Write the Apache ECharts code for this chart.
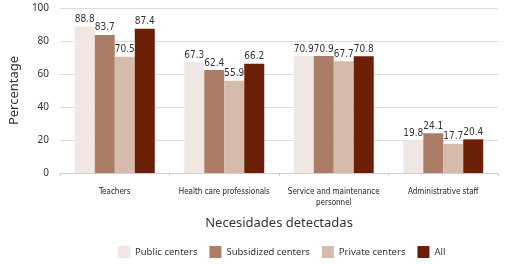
<!DOCTYPE html>
<html><head><meta charset="utf-8">
<script src="https://cdn.jsdelivr.net/npm/echarts@6/dist/echarts.min.js"></script>
<style>html,body{margin:0;padding:0;background:#fff}#c{width:510px;height:264px}</style>
</head><body><div id="c"></div>
<script>
const categories = ['Teachers', 'Health care professionals', 'Service and maintenance\npersonnel', 'Administrative staff'];
const seriesNames = ['Public centers', 'Subsidized centers', 'Private centers', 'All'];
const publicCenters = [88.8, 67.3, 70.9, 19.8];
const subsidizedCenters = [83.7, 62.4, 70.9, 24.1];
const privateCenters = [70.5, 55.9, 67.7, 17.7];
const allCenters = [87.4, 66.2, 70.8, 20.4];
const yTicks = [0, 20, 40, 60, 80, 100];

const colors = ['#f0e7e2', '#ab7d67', '#d6bbad', '#6b1f06'];
const values = [publicCenters, subsidizedCenters, privateCenters, allCenters];

const chart = echarts.init(document.getElementById('c'));
chart.setOption({
  animation: false,
  grid: {left: 55, right: 12, top: 8, bottom: 91},
  legend: {
    bottom: 1, left: 113, itemWidth: 12, itemHeight: 12, itemGap: 12,
    textStyle: {fontFamily: 'Noto Sans', fontSize: 9.5, color: '#333'},
    icon: 'rect',
    data: seriesNames
  },
  xAxis: {
    type: 'category', data: categories,
    name: 'Necesidades detectadas', nameLocation: 'middle', nameGap: 44,
    nameTextStyle: {fontFamily: 'Noto Sans', fontSize: 13, color: '#333'},
    axisLine: {lineStyle: {color: '#cfcfcf'}},
    axisTick: {show: true, length: 3, lineStyle: {color: '#cfcfcf'}},
    axisLabel: {interval: 0, fontFamily: "'DejaVu Sans Condensed', 'Liberation Sans Narrow', 'Noto Sans'", fontSize: 8, color: '#222', margin: 13, lineHeight: 11}
  },
  yAxis: {
    type: 'value', min: yTicks[0], max: yTicks[yTicks.length - 1], interval: 20,
    name: 'Percentage', nameLocation: 'middle', nameGap: 35,
    nameTextStyle: {fontFamily: 'Noto Sans', fontSize: 13, color: '#333'},
    axisLine: {show: false}, axisTick: {show: false},
    axisLabel: {fontFamily: 'Noto Sans', fontSize: 10, color: '#333', margin: 11},
    splitLine: {lineStyle: {color: '#dcdcdc'}}
  },
  series: seriesNames.map((n, i) => ({
    name: n, type: 'bar', data: values[i],
    barGap: '0%', barCategoryGap: '27%',
    itemStyle: {color: colors[i]},
    labelLayout: {hideOverlap: false},
    label: {show: true, position: 'top', distance: 2, fontFamily: "'DejaVu Sans Condensed', 'Noto Sans'", fontSize: 10, color: '#333', formatter: p => p.value.toFixed(1)}
  }))
});
</script></body></html>
